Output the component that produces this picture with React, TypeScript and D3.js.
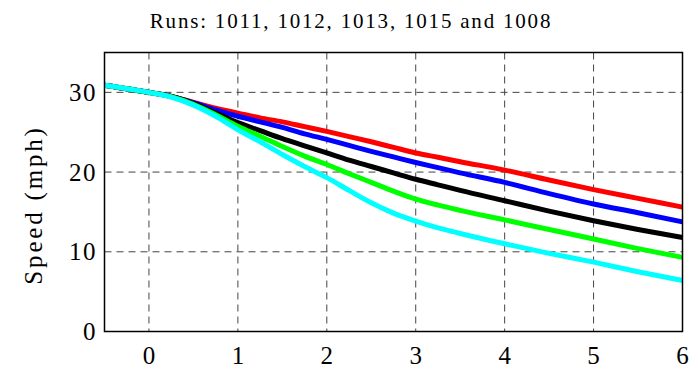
import React from "react";
import * as d3 from "d3";

const title = "Runs: 1011, 1012, 1013, 1015 and 1008";
const yLabel = "Speed (mph)";
const xTicks = [0, 1, 2, 3, 4, 5, 6];
const yTicks = [0, 10, 20, 30];

const times = [-0.5, 0, 0.25, 0.5, 0.75, 1, 1.25, 1.5, 1.75, 2, 2.25, 2.5, 2.75, 3, 3.25, 3.5, 4, 4.5, 5, 5.5, 6];
const red = [30.9, 30.0, 29.5, 28.75, 28.0, 27.4, 26.8, 26.3, 25.7, 25.1, 24.45, 23.8, 23.1, 22.4, 21.85, 21.3, 20.25, 19.0, 17.8, 16.7, 15.6];
const blue = [30.9, 30.0, 29.5, 28.7, 27.8, 27.0, 26.3, 25.6, 24.8, 24.1, 23.35, 22.6, 21.9, 21.2, 20.55, 19.9, 18.7, 17.3, 16.0, 14.9, 13.75];
const black = [30.9, 30.0, 29.5, 28.6, 27.4, 26.2, 25.2, 24.2, 23.3, 22.4, 21.5, 20.7, 19.9, 19.1, 18.4, 17.7, 16.4, 15.1, 13.9, 12.8, 11.8];
const green = [30.9, 30.0, 29.45, 28.5, 27.2, 25.75, 24.5, 23.2, 22.0, 20.95, 19.8, 18.7, 17.6, 16.6, 15.85, 15.2, 14.0, 12.8, 11.6, 10.4, 9.3];
const cyan = [30.9, 30.0, 29.4, 28.4, 27.0, 25.3, 23.8, 22.2, 20.7, 19.3, 17.7, 16.15, 14.85, 13.85, 13.0, 12.3, 11.0, 9.8, 8.7, 7.5, 6.4];

const seriesList = [
  { name: "1011", color: "#ff0000", values: red },
  { name: "1012", color: "#0000ff", values: blue },
  { name: "1013", color: "#000000", values: black },
  { name: "1015", color: "#00ff00", values: green },
  { name: "1008", color: "#00ffff", values: cyan },
];

const W = 698;
const H = 370;
const left = 104.5;
const right = 682.5;
const top = 52.5;
const bottom = 331.5;
const font = "Liberation Serif, serif";

export default function App() {
  const x = d3.scaleLinear().domain([-0.5, 6]).range([left, right]);
  const y = d3.scaleLinear().domain([0, 35]).range([bottom, top]);
  const line = d3
    .line<number>()
    .x((_, i) => x(times[i]))
    .y((d) => y(d))
    .curve(d3.curveMonotoneX);

  return (
    <svg
      width={W}
      height={H}
      style={{ position: "absolute", left: 0, top: 0, background: "#fff" }}
    >
      <rect x={0} y={0} width={W} height={H} fill="#fff" />
      <defs>
        <clipPath id="plotClip">
          <rect x={left} y={top} width={right - left} height={bottom - top} />
        </clipPath>
      </defs>
      {xTicks.map((t) => (
        <line
          key={"gx" + t}
          x1={x(t)}
          x2={x(t)}
          y1={top}
          y2={bottom}
          stroke="#444"
          strokeWidth={1}
          strokeDasharray="7,5"
        />
      ))}
      {yTicks.map((t) => (
        <line
          key={"gy" + t}
          x1={left}
          x2={right}
          y1={y(t)}
          y2={y(t)}
          stroke="#444"
          strokeWidth={1}
          strokeDasharray="7,5"
        />
      ))}
      <g clipPath="url(#plotClip)">
        {seriesList.map((s) => (
          <path
            key={s.name}
            d={line(s.values) || ""}
            fill="none"
            stroke={s.color}
            strokeWidth={5}
            strokeLinejoin="round"
          />
        ))}
      </g>
      <rect
        x={left}
        y={top}
        width={right - left}
        height={bottom - top}
        fill="none"
        stroke="#000"
        strokeWidth={1.5}
      />
      {yTicks.map((t) => (
        <text
          key={"ty" + t}
          x={97}
          y={y(t)}
          textAnchor="end"
          dominantBaseline="central"
          style={{ fontFamily: font, fontSize: "25px", letterSpacing: "1.5px" }}
          fill="#000"
        >
          {t}
        </text>
      ))}
      {xTicks.map((t) => (
        <text
          key={"tx" + t}
          x={x(t)}
          y={364}
          textAnchor="middle"
          style={{ fontFamily: font, fontSize: "25px" }}
          fill="#000"
        >
          {t}
        </text>
      ))}
      <text
        x={351}
        y={28}
        textAnchor="middle"
        style={{ fontFamily: font, fontSize: "21px", letterSpacing: "1.8px" }}
        fill="#000"
      >
        {title}
      </text>
      <text
        transform={`translate(41.5, 205) rotate(-90)`}
        textAnchor="middle"
        style={{ fontFamily: font, fontSize: "25px", letterSpacing: "2.8px" }}
        fill="#000"
      >
        {yLabel}
      </text>
    </svg>
  );
}
